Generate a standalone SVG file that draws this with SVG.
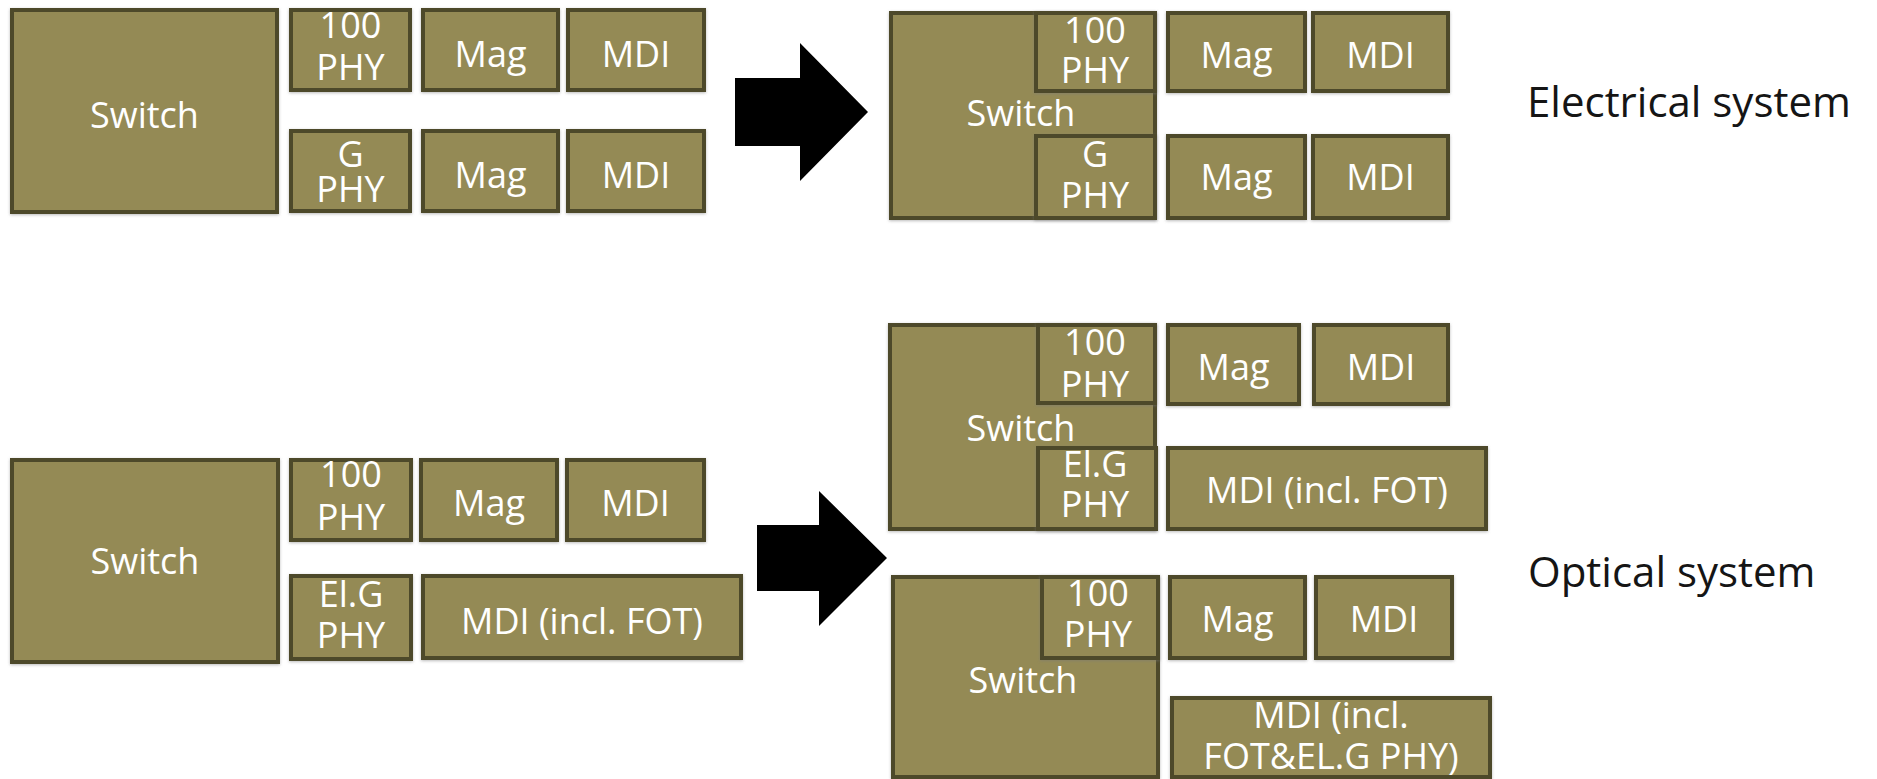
<svg xmlns="http://www.w3.org/2000/svg" width="1877" height="779" viewBox="0 0 1877 779">
<defs>
<filter id="sh" x="-10%" y="-10%" width="120%" height="120%">
<feDropShadow dx="0" dy="1" stdDeviation="1.5" flood-color="#777" flood-opacity="0.5"/>
</filter>
</defs>
<style>
.b{fill:#948A54;stroke:#4D482B;stroke-width:4;filter:url(#sh)}
.t{fill:#FFFFFF;font-family:"Open Sans","Liberation Sans",sans-serif;font-size:36px;text-anchor:middle}
.lbl{fill:#151515;font-family:"Open Sans","Liberation Sans",sans-serif;font-size:42px}
.arr{fill:#000}
</style>
<rect width="1877" height="779" fill="#fff"/>

<!-- Electrical, before -->
<g id="el-before">
<g id="el-b-switch"><rect class="b" x="12" y="10" width="265" height="202"/><text class="t" x="144.5" y="128">Switch</text></g>
<g id="el-b-100phy"><rect class="b" x="291" y="10" width="119" height="80"/><text class="t" x="350.5" y="38">100</text><text class="t" x="350.5" y="80">PHY</text></g>
<g id="el-b-mag1"><rect class="b" x="423" y="10" width="135" height="80"/><text class="t" x="490.5" y="67">Mag</text></g>
<g id="el-b-mdi1"><rect class="b" x="568" y="10" width="136" height="80"/><text class="t" x="636" y="67">MDI</text></g>
<g id="el-b-gphy"><rect class="b" x="291" y="131" width="119" height="80"/><text class="t" x="350.5" y="167">G</text><text class="t" x="350.5" y="202">PHY</text></g>
<g id="el-b-mag2"><rect class="b" x="423" y="131" width="135" height="80"/><text class="t" x="490.5" y="188">Mag</text></g>
<g id="el-b-mdi2"><rect class="b" x="568" y="131" width="136" height="80"/><text class="t" x="636" y="188">MDI</text></g>
</g>

<!-- Optical, before -->
<g id="op-before">
<g id="op-b-switch"><rect class="b" x="12" y="460" width="266" height="202"/><text class="t" x="145" y="574">Switch</text></g>
<g id="op-b-100phy"><rect class="b" x="291" y="460" width="120" height="80"/><text class="t" x="351" y="487">100</text><text class="t" x="351" y="530">PHY</text></g>
<g id="op-b-mag"><rect class="b" x="421" y="460" width="136" height="80"/><text class="t" x="489" y="516">Mag</text></g>
<g id="op-b-mdi"><rect class="b" x="567" y="460" width="137" height="80"/><text class="t" x="635.5" y="516">MDI</text></g>
<g id="op-b-elgphy"><rect class="b" x="291" y="576" width="120" height="83"/><text class="t" x="351" y="607">El.G</text><text class="t" x="351" y="648">PHY</text></g>
<g id="op-b-mdifot"><rect class="b" x="423" y="576" width="318" height="82"/><text class="t" x="582" y="634">MDI (incl. FOT)</text></g>
</g>

<!-- Arrows -->
<g id="connectors">
<polygon class="arr" points="735,78 800,78 800,43 868,112 800,181 800,146 735,146"/>
<polygon class="arr" points="757,525 819,525 819,491 887,558 819,626 819,591 757,591"/>
</g>

<!-- Electrical, after -->
<g id="el-after">
<g id="el-a-switch"><rect class="b" x="891" y="13" width="264" height="205"/><text class="t" x="1021" y="126">Switch</text></g>
<g id="el-a-100phy"><rect class="b" x="1036" y="13" width="119" height="78"/><text class="t" x="1095" y="43">100</text><text class="t" x="1095" y="83">PHY</text></g>
<g id="el-a-gphy"><rect class="b" x="1036" y="136" width="119" height="82"/><text class="t" x="1095" y="167">G</text><text class="t" x="1095" y="208">PHY</text></g>
<g id="el-a-mag1"><rect class="b" x="1168" y="13" width="137" height="78"/><text class="t" x="1236.5" y="68">Mag</text></g>
<g id="el-a-mdi1"><rect class="b" x="1313" y="13" width="135" height="78"/><text class="t" x="1380.5" y="68">MDI</text></g>
<g id="el-a-mag2"><rect class="b" x="1168" y="136" width="137" height="82"/><text class="t" x="1236.5" y="190">Mag</text></g>
<g id="el-a-mdi2"><rect class="b" x="1313" y="136" width="135" height="82"/><text class="t" x="1380.5" y="190">MDI</text></g>
</g>

<!-- Optical, after (1) -->
<g id="op-after-1">
<g id="op-a1-switch"><rect class="b" x="890" y="325" width="265" height="204"/><text class="t" x="1021" y="441">Switch</text></g>
<g id="op-a1-100phy"><rect class="b" x="1038" y="325" width="117" height="78"/><text class="t" x="1095" y="355">100</text><text class="t" x="1095" y="397">PHY</text></g>
<g id="op-a1-elgphy"><rect class="b" x="1038" y="448" width="118" height="81"/><text class="t" x="1095" y="477">El.G</text><text class="t" x="1095" y="517">PHY</text></g>
<g id="op-a1-mag"><rect class="b" x="1168" y="325" width="131" height="79"/><text class="t" x="1233.5" y="380">Mag</text></g>
<g id="op-a1-mdi"><rect class="b" x="1314" y="325" width="134" height="79"/><text class="t" x="1381" y="380">MDI</text></g>
<g id="op-a1-mdifot"><rect class="b" x="1168" y="448" width="318" height="81"/><text class="t" x="1327" y="503">MDI (incl. FOT)</text></g>
</g>

<!-- Optical, after (2) -->
<g id="op-after-2">
<g id="op-a2-switch"><rect class="b" x="893" y="577" width="265" height="200"/><text class="t" x="1023" y="693">Switch</text></g>
<g id="op-a2-100phy"><rect class="b" x="1042" y="577" width="116" height="81"/><text class="t" x="1098" y="606">100</text><text class="t" x="1098" y="647">PHY</text></g>
<g id="op-a2-mag"><rect class="b" x="1170" y="577" width="135" height="81"/><text class="t" x="1237.5" y="632">Mag</text></g>
<g id="op-a2-mdi"><rect class="b" x="1316" y="577" width="136" height="81"/><text class="t" x="1384" y="632">MDI</text></g>
<g id="op-a2-mdifotphy"><rect class="b" x="1172" y="698" width="318" height="79"/><text class="t" x="1331" y="728">MDI (incl.</text><text class="t" x="1331" y="769">FOT&amp;EL.G PHY)</text></g>
</g>

<g id="labels">
<text class="lbl" x="1527" y="117">Electrical system</text>
<text class="lbl" x="1528" y="587">Optical system</text>
</g>
</svg>
